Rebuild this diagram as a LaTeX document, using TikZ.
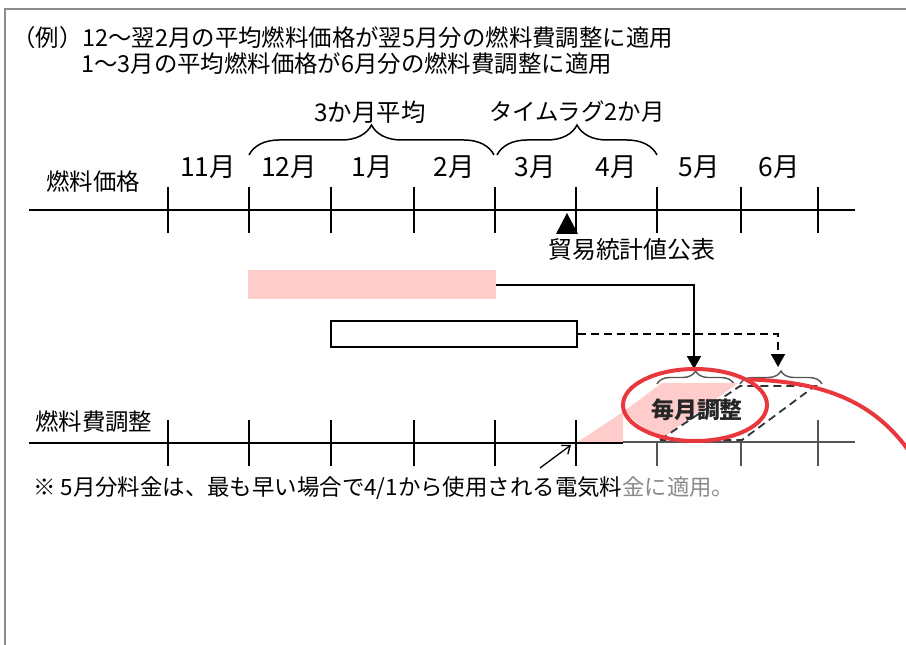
\documentclass[tikz,border=0pt]{standalone}
\usepackage{fontspec}
\setmainfont{Noto Sans CJK JP}
\usetikzlibrary{decorations.pathreplacing,arrows.meta,shapes.geometric}
\definecolor{pinkc}{HTML}{FFCCCC}
\definecolor{redc}{HTML}{E8383D}
\definecolor{framec}{HTML}{8C8C8C}
\definecolor{grayc}{HTML}{555555}
\definecolor{notegray}{HTML}{8A8A8A}
\begin{document}
\begin{tikzpicture}[x=1bp,y=-1bp,
  txt/.style={inner sep=0pt, font=\fontsize{23.5}{27}\selectfont},
  notetxt/.style={inner sep=0pt, font=\fontsize{22.5}{26}\selectfont},
  mon/.style={inner sep=0pt, font=\fontsize{26.5}{30}\selectfont},
  axisline/.style={line width=2.6bp},
  tickline/.style={line width=1.8bp},
  conn/.style={line width=1.8bp},
  tipa/.style={-{Triangle[length=13bp,width=14bp]}},
  bigbrace/.style={decorate, decoration={brace, amplitude=30bp}, line width=1.5bp},
  smallbrace/.style={decorate, decoration={brace, amplitude=13bp}, line width=1.4bp, draw=grayc},
  dashpat/.style={dash pattern=on 8bp off 5bp}
]
\useasboundingbox (0,0) rectangle (906,645);
% frame
\draw[framec, line width=2.5bp] (5,645) -- (5,9) -- (906,9);

% header
\node[txt, anchor=west] (l1) at (12,38) {（例）12～翌2月の平均燃料価格が翌5月分の燃料費調整に適用};
\node[txt, anchor=west] (l2) at (81,64) {1～3月の平均燃料価格が6月分の燃料費調整に適用};

\node[txt, font=\fontsize{24.5}{28}\selectfont] (avg) at (370,112) {3か月平均};
\node[txt] (lag) at (577,112) {タイムラグ2か月};
\draw[bigbrace] (249,155) -- (494,155);
\draw[bigbrace] (497,155) -- (657,155);

% months
\node[mon] (m11) at (208,167) {11月};
\node[mon] (m12) at (289,167) {12月};
\node[mon] (m1) at (372,167) {1月};
\node[mon] (m2) at (454,167) {2月};
\node[mon] (m3) at (535,167) {3月};
\node[mon] (m4) at (616,167) {4月};
\node[mon] (m5) at (699,167) {5月};
\node[mon] (m6) at (779,167) {6月};

% top axis
\node[txt] (lblA) at (93,182) {燃料価格};
\draw[axisline] (29,210) -- (855,210);
\foreach \x in {168,249,331,414,495,576,657,741,818}
  \draw[tickline] (\x,187) -- (\x,233);
\fill (556,234) -- (567,213) -- (578,234) -- cycle;
\node[txt, font=\fontsize{24}{28}\selectfont, anchor=west] (trade) at (548,249) {貿易統計値公表};

% bars
\node[fill=pinkc, minimum width=248bp, minimum height=29bp, inner sep=0pt, anchor=north west] (pinkbar) at (248,270) {};
\node[draw, line width=1.8bp, minimum width=246bp, minimum height=26bp, inner sep=0pt, anchor=north west] (whitebar) at (330,320) {};
\coordinate (tipA) at (694,369);
\coordinate (tipB) at (778,367);
\draw[conn, tipa] (pinkbar.east) -| (tipA);
\draw[conn, dashpat, tipa] (whitebar.east) -| (tipB);

% small braces
\draw[smallbrace] (657,384) -- (734,384);
\draw[smallbrace] (740,384) -- (822,384);

% bottom area
\fill[pinkc] (576,443) -- (623,412) -- (623,443) -- cycle;
\fill[pinkc] (623,412) -- (662,383) -- (738,383) -- (660,440) -- cycle;
\node[txt, anchor=west] (lblB) at (35,422) {燃料費調整};
\draw[axisline] (29,443) -- (623,443);
\draw[axisline, grayc] (623,442) -- (855,442);
\foreach \x in {168,249,331,414,495,576}
  \draw[tickline] (\x,420) -- (\x,466);
\foreach \x in {657,741}
  \draw[tickline, grayc] (\x,442) -- (\x,466);
\draw[tickline, grayc] (818,420) -- (818,466);

% dashed parallelogram
\draw[line width=1.8bp, dashpat, black!80] (660,440) -- (740,386) -- (815,386) -- (742,440) -- cycle;

% ellipse highlight
\node[ellipse, draw=redc, line width=4bp, minimum width=144bp, minimum height=72bp, inner sep=0pt] (ell) at (695,405) {};
\node[inner sep=0pt, font=\fontsize{23}{27}\selectfont\bfseries, text=black!85] (mt) at (697,410) {毎月調整};
\coordinate (redend) at (915,460);
\draw[redc, line width=4bp] (ell.25) .. controls (830,382) and (880,405) .. (redend);

% note arrow and text
\coordinate (na) at (540,468);
\coordinate (nb) at (571,445);
\draw[line width=1.3bp, -{Straight Barb[length=7bp,width=11bp]}] (na) -- (nb);
\node[notetxt, anchor=west] (note) at (33,488) {※ 5月分料金は、最も早い場合で4/1から使用される電気料\textcolor{notegray}{金に適用。}};
\end{tikzpicture}
\end{document}
